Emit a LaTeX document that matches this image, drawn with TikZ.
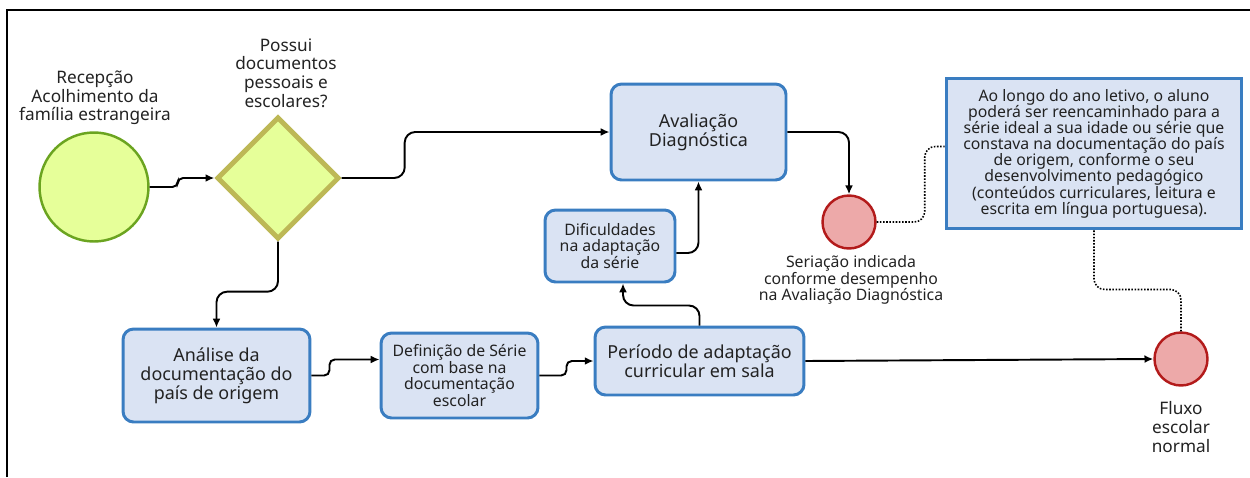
\documentclass[tikz,border=0pt]{standalone}
\usepackage{fontspec}
\setmainfont{Noto Sans}
\usetikzlibrary{arrows.meta,shapes.geometric,calc}
\definecolor{limefill}{RGB}{230,255,153}
\definecolor{limeline}{RGB}{107,164,32}
\definecolor{oliveline}{RGB}{189,184,86}
\definecolor{boxfill}{RGB}{218,227,243}
\definecolor{boxline}{RGB}{58,125,193}
\definecolor{redfill}{RGB}{237,169,169}
\definecolor{redline}{RGB}{179,27,27}
\definecolor{txt}{RGB}{34,34,34}
\begin{document}
\begin{tikzpicture}[x=0.02cm,y=-0.02cm,
  every node/.style={text=txt},
  fbig/.style={font=\fontsize{10.2}{10.8}\selectfont},
  fmid/.style={font=\fontsize{9.8}{10.6}\selectfont},
  fsmall/.style={font=\fontsize{9}{9.5}\selectfont},
  fnote/.style={font=\fontsize{9}{9.2}\selectfont},
  box/.style={draw=boxline, fill=boxfill, line width=1.7pt, rounded corners=6pt, align=center, inner sep=0pt},
  endcirc/.style={circle, draw=redline, fill=redfill, line width=1.4pt, minimum size=1.06cm, inner sep=0pt},
  conn/.style={line width=1.1pt, -{Latex[length=5pt,width=4.5pt]}, rounded corners=6pt},
  sconn/.style={line width=1.1pt, -{Latex[length=5pt,width=4.5pt]}, rounded corners=3pt},
  dotconn/.style={line width=0.9pt, dash pattern=on 0.9pt off 0.9pt, rounded corners=6pt},
  lbl/.style={align=center, inner sep=0pt}
]
\useasboundingbox (0,0) rectangle (1250,477);
\draw[line width=1.1pt, black] (7,477) -- (7,10) -- (1250,10);

% start
\node[circle, draw=limeline, fill=limefill, line width=1.4pt, minimum size=2.18cm, inner sep=0pt] (g) at (94,187) {};
\node[lbl, fmid] (gl) at (95,98) {Recepção\\Acolhimento da\\família estrangeira};

% decision
\node[diamond, draw=oliveline, fill=limefill, line width=2.8pt, minimum width=2.45cm, minimum height=2.45cm, inner sep=0pt] (d) at (278,178) {};
\node[lbl, fmid] (dl) at (286,73) {Possui\\documentos\\pessoais e\\escolares?};

% boxes
\node[box, fbig, minimum width=3.5cm, minimum height=1.92cm] (av) at (698.5,132) {Avaliação\\Diagnóstica};
\node[box, fsmall, minimum width=2.6cm, minimum height=1.44cm] (dif) at (610,246) {Dificuldades\\na adaptação\\da série};
\node[box, fbig, minimum width=3.74cm, minimum height=1.86cm] (an) at (216.5,375.5) {Análise da\\documentação do\\país de origem};
\node[box, fsmall, minimum width=3.14cm, minimum height=1.7cm] (def) at (459.5,375.5) {Definição de Série\\com base na\\documentação\\escolar};
\node[box, fbig, minimum width=4.18cm, minimum height=1.36cm] (per) at (699.5,361) {Período de adaptação\\curricular em sala};
\node[box, fnote, rounded corners=0pt, minimum width=5.92cm, minimum height=3.02cm] (note) at (1094,153.5) {Ao longo do ano letivo, o aluno\\poderá ser reencaminhado para a\\série ideal a sua idade ou série que\\constava na documentação do país\\de origem, conforme o seu\\desenvolvimento pedagógico\\(conteúdos curriculares, leitura e\\escrita em língua portuguesa).};

% end events
\node[endcirc] (ser) at (849,222) {};
\node[lbl, fsmall] (serl) at (851,280) {Seriação indicada\\conforme desempenho\\na Avaliação Diagnóstica};
\node[endcirc] (fl) at (1181,359) {};
\node[lbl, fmid] (fll) at (1181,427) {Fluxo\\escolar\\normal};

% connectors
\draw[sconn] (g.east) -- ++(28,0) |- (d.west);
\draw[conn] (d.east) -- ++(63,0) |- (av.west);
\draw[conn] (d.south) -- ++(0,50) -| (an.north);
\draw[sconn] (an.east) -- ++(18,0) |- ($(def.west)+(0,-16)$);
\draw[sconn] (def.east) -- ++(27,0) |- (per.west);
\draw[conn] (per.east) -- (fl.west);
\draw[conn] (per.north) -- ++(0,-20) -| ($(dif.south)+(13,0)$);
\draw[conn] ($(dif.east)+(0,7)$) -| (av.south);
\draw[conn] (av.east) -| (ser.north);
\draw[dotconn] (ser.east) -- ++(48,0) |- ($(note.west)+(0,-7)$);
\draw[dotconn] (note.south) -- ++(0,59) -| (fl.north);
\end{tikzpicture}
\end{document}
